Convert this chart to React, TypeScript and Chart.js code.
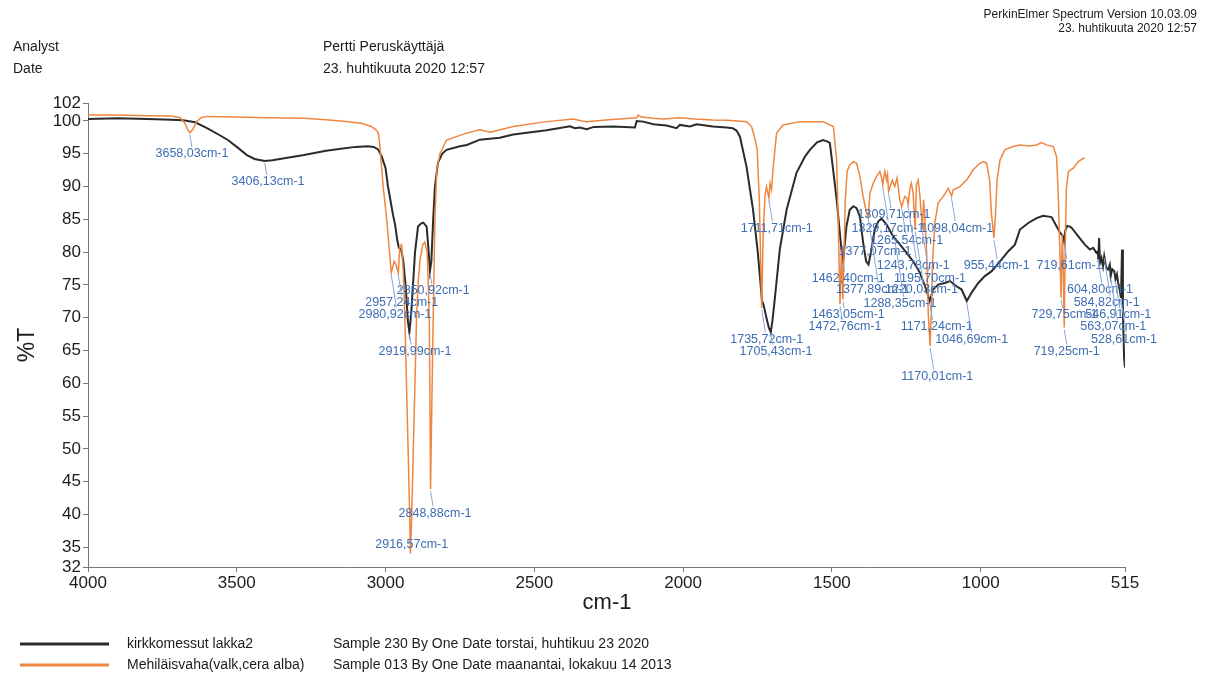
import React, { useEffect, useRef } from 'react';
import { Chart, registerables } from 'chart.js';

Chart.register(...registerables);

const FONT = '"Liberation Sans", Arial, Helvetica, sans-serif';

// ---- Series: kirkkomessut lakka2 (black) ----
const blackWavenumber = [
  4000, 3900, 3800, 3720, 3680, 3640, 3600, 3560, 3530, 3500, 3466, 3440, 3406.13, 3380, 3330, 3274, 3200, 3150, 3100, 3060,
  3040, 3025, 3013, 3000, 2992, 2985, 2975, 2968, 2960, 2955, 2948, 2941, 2932, 2925, 2919.99, 2914, 2907, 2901, 2891, 2880,
  2873, 2862, 2856, 2850.92, 2846, 2840, 2834, 2824, 2810, 2795, 2750, 2727, 2683, 2616, 2571, 2459, 2380, 2364, 2347, 2324,
  2300, 2235, 2162, 2156, 2134, 2100, 2056, 2022, 2011, 1977, 1955, 1900, 1854, 1833, 1820, 1809, 1787, 1765, 1749, 1739,
  1735, 1730, 1720, 1712, 1705.43, 1700, 1692, 1675, 1652, 1619, 1590, 1574, 1550, 1530, 1515, 1507, 1497, 1484, 1476, 1468,
  1462.4, 1457, 1451, 1440, 1428, 1417, 1406, 1395, 1385, 1377.07, 1367, 1356, 1344, 1333, 1316, 1294, 1271, 1249, 1227, 1204,
  1187, 1171.24, 1166, 1160, 1143, 1120, 1103, 1081, 1064, 1046.69, 1031, 1008, 986, 963, 935, 907, 885, 868, 840, 812,
  790, 762, 745, 734, 728, 722, 719.61, 716, 710, 700, 694, 672, 650, 633, 622, 611, 606, 604.8, 602, 599,
  594, 589, 584.82, 578, 572, 566, 563.07, 558, 551, 546.91, 542, 538, 533, 528.61, 525, 522, 518, 515,
];
const blackTransmittance = [
  100.3, 100.4, 100.3, 100.2, 100.1, 99.8, 98.9, 97.9, 97.1, 96.05, 94.8, 94.2, 93.9, 94.0, 94.4, 94.8, 95.45, 95.75, 96.05, 96.15,
  96.05, 95.65, 94.6, 92.8, 90.05, 88.25, 85.7, 84.2, 81.65, 80.65, 80.45, 78.9, 74.55, 69.5, 67.8, 70.5, 75.6, 79.95, 83.9, 84.4,
  84.5, 83.9, 80.65, 77.1, 78.6, 85.0, 90.05, 93.6, 95.0, 95.6, 96.15, 96.35, 97.15, 97.45, 97.95, 98.6, 99.2, 98.9, 99.0, 98.75,
  99.1, 99.15, 99.0, 100.0, 99.9, 99.5, 99.3, 98.9, 99.4, 99.15, 99.5, 99.15, 99.0, 98.9, 98.5, 97.6, 93.05, 86.45, 79.95, 74.75,
  72.55, 72.05, 70.0, 68.5, 67.8, 69.5, 72.85, 80.45, 86.5, 92.1, 94.6, 95.6, 96.75, 97.1, 96.85, 96.65, 93.0, 88.0, 84.2, 80.4,
  78.6, 81.15, 83.95, 86.45, 87.0, 86.7, 85.45, 81.45, 78.6, 78.1, 80.4, 83.45, 84.7, 85.1, 84.2, 82.4, 81.15, 79.9, 78.6, 76.85,
  74.8, 72.55, 73.35, 74.3, 75.05, 75.3, 75.6, 74.8, 74.3, 72.55, 73.8, 75.3, 76.35, 77.1, 78.6, 80.15, 81.15, 83.45, 84.45, 85.2,
  85.55, 85.35, 83.95, 83.0, 82.7, 82.3, 81.65, 83.2, 84.0, 83.9, 83.7, 82.4, 81.15, 80.4, 80.65, 79.9, 80.15, 78.9, 82.15, 78.35,
  79.1, 77.85, 79.4, 77.6, 77.35, 78.1, 76.35, 77.4, 77.1, 75.85, 76.6, 75.35, 74.3, 73.05, 80.4, 70.5, 63.95, 62.4,
];

// ---- Series: Mehiläisvaha (orange) ----
const orangeWavenumber = [
  4000, 3900, 3800, 3720, 3690, 3675, 3665, 3658.03, 3648, 3635, 3620, 3600, 3500, 3400, 3274, 3200, 3150, 3082, 3050, 3032,
  3024, 3019, 3008, 2996, 2986, 2980.92, 2971, 2965, 2957.24, 2952, 2946, 2940, 2935, 2930, 2924, 2919, 2916.57, 2912, 2907, 2901,
  2896, 2890, 2884, 2875, 2868, 2860, 2856, 2853, 2850.5, 2848.88, 2845, 2840, 2834, 2828, 2817, 2795, 2728, 2683, 2649, 2571,
  2459, 2369, 2340, 2324, 2250, 2156, 2151, 2140, 2100, 2067, 2011, 1960, 1899, 1850, 1787, 1770, 1759, 1751, 1744, 1735.72,
  1731, 1725, 1720, 1711.71, 1708, 1703, 1697, 1686, 1664, 1607, 1529, 1495, 1484, 1478, 1472.76, 1468, 1463.05, 1459, 1455, 1449,
  1440, 1428, 1417, 1406, 1395, 1384, 1377.89, 1372, 1361, 1350, 1339, 1333, 1329.17, 1322, 1316, 1313, 1309.71, 1297, 1289, 1281,
  1272, 1265.54, 1255, 1248, 1243.78, 1238, 1233, 1227, 1220.03, 1216, 1210, 1204, 1195.7, 1192, 1188, 1182, 1176, 1170.01, 1166, 1162,
  1154, 1143, 1126, 1115, 1109, 1098.04, 1092, 1070, 1047, 1025, 1003, 990, 980, 970, 964, 955.44, 950, 945, 935, 919,
  891, 868, 835, 812, 795, 779, 756, 745, 739, 729.75, 726, 723, 719.25, 716, 712, 705, 689, 672, 655, 650,
];
const orangeTransmittance = [
  100.9, 100.9, 100.8, 100.75, 100.5, 99.7, 98.7, 98.2, 98.7, 99.9, 100.5, 100.7, 100.6, 100.5, 100.4, 100.2, 100.0, 99.65, 99.2, 98.65,
  98.15, 96.1, 90.0, 84.95, 79.65, 76.85, 78.6, 78.1, 76.8, 80.9, 81.15, 76.6, 69.75, 60.4, 49.5, 40.1, 34.05, 40.1, 49.5, 60.4,
  69.75, 75.6, 78.85, 81.15, 81.55, 79.9, 74.55, 69.75, 55.3, 43.9, 55.3, 69.75, 84.95, 92.55, 95.05, 97.1, 98.15, 98.65, 98.3, 99.15,
  99.9, 100.3, 100.0, 99.9, 100.2, 100.5, 100.9, 100.6, 100.4, 100.3, 100.5, 100.3, 100.15, 100.1, 99.9, 99.15, 97.35, 95.6, 88.0, 71.5,
  82.9, 88.5, 90.0, 88.25, 90.5, 89.5, 93.05, 98.15, 99.4, 99.9, 99.9, 99.15, 94.05, 82.9, 72.05, 80.4, 72.8, 80.65, 88.0, 92.3,
  93.3, 93.8, 93.55, 91.55, 88.5, 86.0, 85.45, 89.0, 90.5, 91.55, 92.3, 91.3, 90.25, 92.3, 91.0, 91.8, 89.25, 91.0, 90.0, 91.3,
  88.0, 86.95, 88.5, 88.25, 87.2, 89.75, 90.5, 89.0, 83.45, 90.25, 91.0, 88.5, 83.45, 88.0, 85.7, 80.4, 70.5, 65.7, 70.5, 78.35,
  84.45, 87.5, 88.5, 89.25, 89.75, 88.55, 89.5, 90.0, 91.0, 92.55, 93.55, 93.8, 93.55, 91.0, 85.95, 82.15, 85.95, 91.0, 94.05, 95.6,
  96.1, 96.35, 96.2, 96.35, 96.7, 96.35, 96.1, 94.55, 88.5, 73.05, 82.7, 78.6, 68.5, 80.65, 89.75, 92.3, 92.8, 93.8, 94.3, 94.3,
];

// ---- Axes ----
const xAxisMin = 515;
const xAxisMax = 4000;
const xTickValues = [4000, 3500, 3000, 2500, 2000, 1500, 1000, 515];
const yAxisMin = 32;
const yAxisMax = 102.74;
const yTickValues = [32, 35, 40, 45, 50, 55, 60, 65, 70, 75, 80, 85, 90, 95, 100, 102.74];
const yTickLabels = ['32', '35', '40', '45', '50', '55', '60', '65', '70', '75', '80', '85', '90', '95', '100', '102'];

// ---- Peak labels ----
const peakWavenumbers = [
  3658.03, 3406.13, 2850.92, 2957.24, 2980.92, 2919.99, 2848.88, 2916.57, 1711.71, 1735.72, 1705.43, 1309.71,
  1329.17, 1098.04, 1265.54, 1377.07, 1243.78, 955.44, 719.61, 1462.4, 1195.7, 1377.89, 1220.03, 604.8,
  1288.35, 584.82, 1463.05, 729.75, 546.91, 1472.76, 1171.24, 563.07, 1046.69, 528.61, 719.25, 1170.01,
];
const peakSeries = [
  'o', 'k', 'k', 'o', 'o', 'k', 'o', 'o', 'o', 'o', 'k', 'o',
  'o', 'o', 'o', 'k', 'o', 'o', 'k', 'k', 'o', 'o', 'o', 'k',
  'k', 'k', 'o', 'o', 'k', 'o', 'k', 'k', 'k', 'k', 'o', 'o',
];
const labelWavenumbers = [
  3650.5, 3395, 2839.8, 2945.8, 2968.3, 2901.1, 2833.8, 2912.1, 1685.5, 1719.1, 1687.8, 1291.3,
  1311.5, 1080.6, 1248.8, 1355.2, 1226.4, 946.2, 701.5, 1444.9, 1170.4, 1363.6, 1198.9, 599.1,
  1271.2, 576.6, 1444.9, 718.3, 537.6, 1456.1, 1147.9, 554.4, 1030.4, 518.4, 711.1, 1146,
];
const labelTransmittance = [
  94.97, 90.7, 74.13, 72.3, 70.53, 64.83, 40.19, 35.36, 83.64, 66.72, 64.83, 85.67,
  83.64, 83.64, 81.75, 80.07, 77.89, 77.89, 77.89, 76.02, 76.02, 74.23, 74.23, 74.23,
  72.1, 72.3, 70.42, 70.42, 70.42, 68.64, 68.64, 68.64, 66.72, 66.72, 64.83, 61.02,
];

const BLACK = '#2b2b2b';
const ORANGE = '#ee8640';
const LABEL_BLUE = '#3d6db3';
const LEADER_BLUE = '#86a8d8';

function interpolate(xs: number[], ys: number[], v: number): number {
  for (let i = 0; i < xs.length - 1; i++) {
    const a = xs[i];
    const b = xs[i + 1];
    if ((v <= a && v >= b) || (v >= a && v <= b)) {
      if (a === b) return ys[i];
      const t = (v - a) / (b - a);
      return ys[i] + t * (ys[i + 1] - ys[i]);
    }
  }
  return ys[ys.length - 1];
}

const overlayPlugin = {
  id: 'overlay',
  afterDatasetsDraw(chart: any) {
    const { ctx, scales } = chart;
    const xs = scales.x;
    const ys = scales.y;
    ctx.save();
    ctx.font = `12.5px ${FONT}`;
    ctx.textAlign = 'center';
    ctx.textBaseline = 'middle';
    for (let i = 0; i < peakWavenumbers.length; i++) {
      const p = peakWavenumbers[i];
      const isBlack = peakSeries[i] === 'k';
      const val = isBlack
        ? interpolate(blackWavenumber, blackTransmittance, p)
        : interpolate(orangeWavenumber, orangeTransmittance, p);
      const px = xs.getPixelForValue(p);
      const py = ys.getPixelForValue(val);
      const tx = xs.getPixelForValue(labelWavenumbers[i]);
      const ty = ys.getPixelForValue(labelTransmittance[i]);
      const text = `${p.toFixed(2).replace('.', ',')}cm-1`;
      const halfW = ctx.measureText(text).width / 2;
      const top = ty - 7;
      if (top - py > 3) {
        let ex = px + (top - py) * 0.15;
        ex = Math.max(tx - halfW + 4, Math.min(tx + halfW - 4, ex));
        ctx.strokeStyle = LEADER_BLUE;
        ctx.lineWidth = 1;
        ctx.beginPath();
        ctx.moveTo(px, py + 2);
        ctx.lineTo(ex, top);
        ctx.stroke();
      }
      ctx.fillStyle = LABEL_BLUE;
      ctx.fillText(text, tx, ty);
    }
    ctx.restore();
  },
  afterDraw(chart: any) {
    const { ctx } = chart;
    ctx.save();
    ctx.fillStyle = '#1c1c1c';
    ctx.textBaseline = 'middle';
    // top-right
    ctx.font = `12px ${FONT}`;
    ctx.textAlign = 'right';
    ctx.fillText('PerkinElmer Spectrum Version 10.03.09', 1197, 15);
    ctx.fillText('23. huhtikuuta 2020 12:57', 1197, 29);
    // header
    ctx.font = `14px ${FONT}`;
    ctx.textAlign = 'left';
    ctx.fillText('Analyst', 13, 47);
    ctx.fillText('Date', 13, 69);
    ctx.fillText('Pertti Peruskäyttäjä', 323, 47);
    ctx.fillText('23. huhtikuuta 2020 12:57', 323, 69);
    // axis titles
    ctx.font = `22px ${FONT}`;
    ctx.textAlign = 'center';
    ctx.fillText('cm-1', 607, 603);
    ctx.save();
    ctx.translate(28, 345);
    ctx.rotate(-Math.PI / 2);
    ctx.font = `23px ${FONT}`;
    ctx.fillText('%T', 0, 0);
    ctx.restore();
    // legend
    ctx.lineWidth = 3;
    ctx.strokeStyle = BLACK;
    ctx.beginPath();
    ctx.moveTo(20, 644);
    ctx.lineTo(109, 644);
    ctx.stroke();
    ctx.strokeStyle = ORANGE;
    ctx.beginPath();
    ctx.moveTo(20, 665);
    ctx.lineTo(109, 665);
    ctx.stroke();
    ctx.font = `14px ${FONT}`;
    ctx.textAlign = 'left';
    ctx.fillText('kirkkomessut lakka2', 127, 644);
    ctx.fillText('Mehiläisvaha(valk,cera alba)', 127, 665);
    ctx.fillText('Sample 230 By One Date torstai, huhtikuu 23 2020', 333, 644);
    ctx.fillText('Sample 013 By One Date maanantai, lokakuu 14 2013', 333, 665);
    ctx.restore();
  },
};

export default function App() {
  const canvasRef = useRef<HTMLCanvasElement | null>(null);

  useEffect(() => {
    document.body.style.margin = '0';
    document.body.style.background = '#ffffff';
    const canvas = canvasRef.current;
    if (!canvas) return;
    const blackData = blackWavenumber.map((w, i) => ({ x: w, y: blackTransmittance[i] }));
    const orangeData = orangeWavenumber.map((w, i) => ({ x: w, y: orangeTransmittance[i] }));
    const chart = new Chart(canvas, {
      type: 'line',
      data: {
        datasets: [
          {
            label: 'Mehiläisvaha(valk,cera alba)',
            data: orangeData,
            borderColor: ORANGE,
            borderWidth: 1.5,
            pointRadius: 0,
            tension: 0,
            order: 0,
          },
          {
            label: 'kirkkomessut lakka2',
            data: blackData,
            borderColor: BLACK,
            borderWidth: 2,
            pointRadius: 0,
            tension: 0,
            order: 1,
          },
        ],
      },
      options: {
        responsive: false,
        animation: false,
        devicePixelRatio: 1,
        layout: { padding: { left: 0, top: 103, right: 88, bottom: 0 } },
        plugins: { legend: { display: false }, tooltip: { enabled: false }, title: { display: false } },
        events: [],
        scales: {
          x: {
            type: 'linear',
            reverse: true,
            min: xAxisMin,
            max: xAxisMax,
            afterBuildTicks: (scale: any) => {
              scale.ticks = xTickValues.map((v) => ({ value: v }));
            },
            afterFit: (scale: any) => {
              scale.height = 106;
            },
            ticks: {
              autoSkip: false,
              maxRotation: 0,
              minRotation: 0,
              padding: 1,
              color: '#1c1c1c',
              font: { family: FONT, size: 17 },
              callback: (v: any) => String(v),
            },
            grid: { drawOnChartArea: false, drawTicks: true, tickLength: 5, color: '#777777' },
            border: { display: true, color: '#777777', width: 1 },
          },
          y: {
            type: 'linear',
            min: yAxisMin,
            max: yAxisMax,
            afterBuildTicks: (scale: any) => {
              scale.ticks = yTickValues.map((v) => ({ value: v }));
            },
            afterFit: (scale: any) => {
              scale.width = 88;
            },
            ticks: {
              autoSkip: false,
              padding: 2,
              color: '#1c1c1c',
              font: { family: FONT, size: 17 },
              callback: (v: any) => {
                const idx = yTickValues.indexOf(Number(v));
                return idx >= 0 ? yTickLabels[idx] : String(v);
              },
            },
            grid: { drawOnChartArea: false, drawTicks: true, tickLength: 5, color: '#777777' },
            border: { display: true, color: '#777777', width: 1 },
          },
        },
      },
      plugins: [overlayPlugin],
    } as any);
    return () => {
      chart.destroy();
    };
  }, []);

  return (
    <div style={{ width: 1213, height: 673, overflow: 'hidden', background: '#fff' }}>
      <canvas ref={canvasRef} width={1213} height={673} style={{ display: 'block', width: 1213, height: 673 }} />
    </div>
  );
}
